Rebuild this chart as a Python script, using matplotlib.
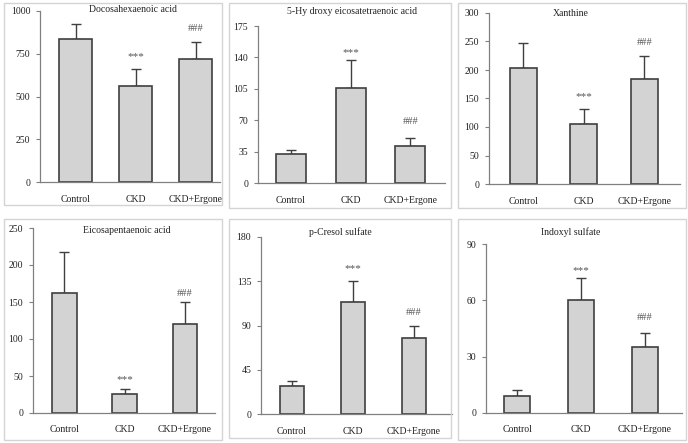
import matplotlib
matplotlib.use("Agg")
import matplotlib.pyplot as plt
from matplotlib.patches import Rectangle

plt.rcParams['font.family'] = ['Liberation Serif', 'DejaVu Serif']

W, H = 688, 443

groups = ["Control", "CKD", "CKD+Ergone"]

titles = ["Docosahexaenoic acid", "5-Hy droxy eicosatetraenoic acid", "Xanthine",
          "Eicosapentaenoic acid", "p-Cresol sulfate", "Indoxyl sulfate"]

dha_mean = [838, 563, 720]
dha_err = [87, 97, 101]
hete_mean = [32, 106, 41]
hete_err = [5, 31, 9]
xan_mean = [203, 105, 185]
xan_err = [45, 26, 39]
epa_mean = [162, 26, 120]
epa_err = [56, 6, 30]
pcs_mean = [28, 114, 77]
pcs_err = [5.5, 21, 13]
ins_mean = [9, 60, 35]
ins_err = [3.5, 12, 7.5]

means = [dha_mean, hete_mean, xan_mean, epa_mean, pcs_mean, ins_mean]
errs = [dha_err, hete_err, xan_err, epa_err, pcs_err, ins_err]

y_max = [1000, 175, 300, 250, 180, 90]
y_step = [250, 35, 50, 50, 45, 30]

# marker text heights: *** over CKD, ### over CKD+Ergone
star_y = [731, 145, 153, 45, 148, 76]
hash_y = [900, 68, 248, 161, 103, 51]

# pixel layout: axes (left, right, top, bottom), xlim, bar width, title center, box
axes_px = [(40, 220, 11, 182), (258, 445, 26, 183), (489, 680, 13, 184),
           (33, 215, 228, 413), (261, 452, 237, 414), (486, 682, 244, 413)]
xlims = [(-0.59, 2.40), (-0.55, 2.58), (-0.57, 2.59),
         (-0.52, 2.50), (-0.51, 2.63), (-0.49, 2.58)]
bar_w = [0.55, 0.5, 0.45, 0.41, 0.4, 0.41]
title_px = [(133, 10), (352, 12), (571, 13), (127, 230), (340, 232), (571, 232)]
boxes = [(4, 222, 3, 205), (229, 451, 3, 208), (458, 686, 3, 208),
         (4, 222, 219, 440), (229, 451, 219, 438), (458, 686, 219, 440)]

fig = plt.figure(figsize=(W / 100, H / 100), dpi=100)

for i in range(6):
    bx0, bx1, by0, by1 = boxes[i]
    fig.patches.append(Rectangle((bx0 / W, 1 - by1 / H), (bx1 - bx0) / W, (by1 - by0) / H,
                                 transform=fig.transFigure, fill=False,
                                 edgecolor='#d4d4d4', lw=1.0))

    l, r, t, b = axes_px[i]
    ax = fig.add_axes([l / W, 1 - b / H, (r - l) / W, (b - t) / H])
    x = range(3)
    ax.bar(x, means[i], width=bar_w[i], color='#d3d3d3', edgecolor='#3f3f3f',
           linewidth=1.2, zorder=2)
    ax.errorbar(x, means[i], yerr=[[0, 0, 0], errs[i]], fmt='none', ecolor='#3f3f3f',
                elinewidth=1.0, capsize=3.5, capthick=1.0, zorder=1)
    ax.text(1, star_y[i], "***", ha='center', va='center', fontsize=8, color='#555555')
    ax.text(2, hash_y[i], "###", ha='center', va='center', fontsize=7.5, color='#555555')

    ax.set_xlim(*xlims[i])
    ax.set_ylim(0, y_max[i])
    ax.set_yticks(range(0, y_max[i] + 1, y_step[i]))
    ax.set_xticks(list(x))
    ax.set_xticklabels(groups)
    ax.tick_params(axis='x', length=0, pad=9, labelsize=7, labelcolor='#222222')
    ax.tick_params(axis='y', length=3, width=0.8, color='#808080', pad=4,
                   labelsize=7, labelcolor='#222222')
    for s in ['top', 'right']:
        ax.spines[s].set_visible(False)
    for s in ['left', 'bottom']:
        ax.spines[s].set_color('#808080')
        ax.spines[s].set_linewidth(0.9)
    ax.patch.set_alpha(0)

    tx, ty = title_px[i]
    fig.text(tx / W, 1 - ty / H, titles[i], ha='center', va='center', fontsize=7,
             color='#222222')

fig.savefig("out.png", dpi=100)
